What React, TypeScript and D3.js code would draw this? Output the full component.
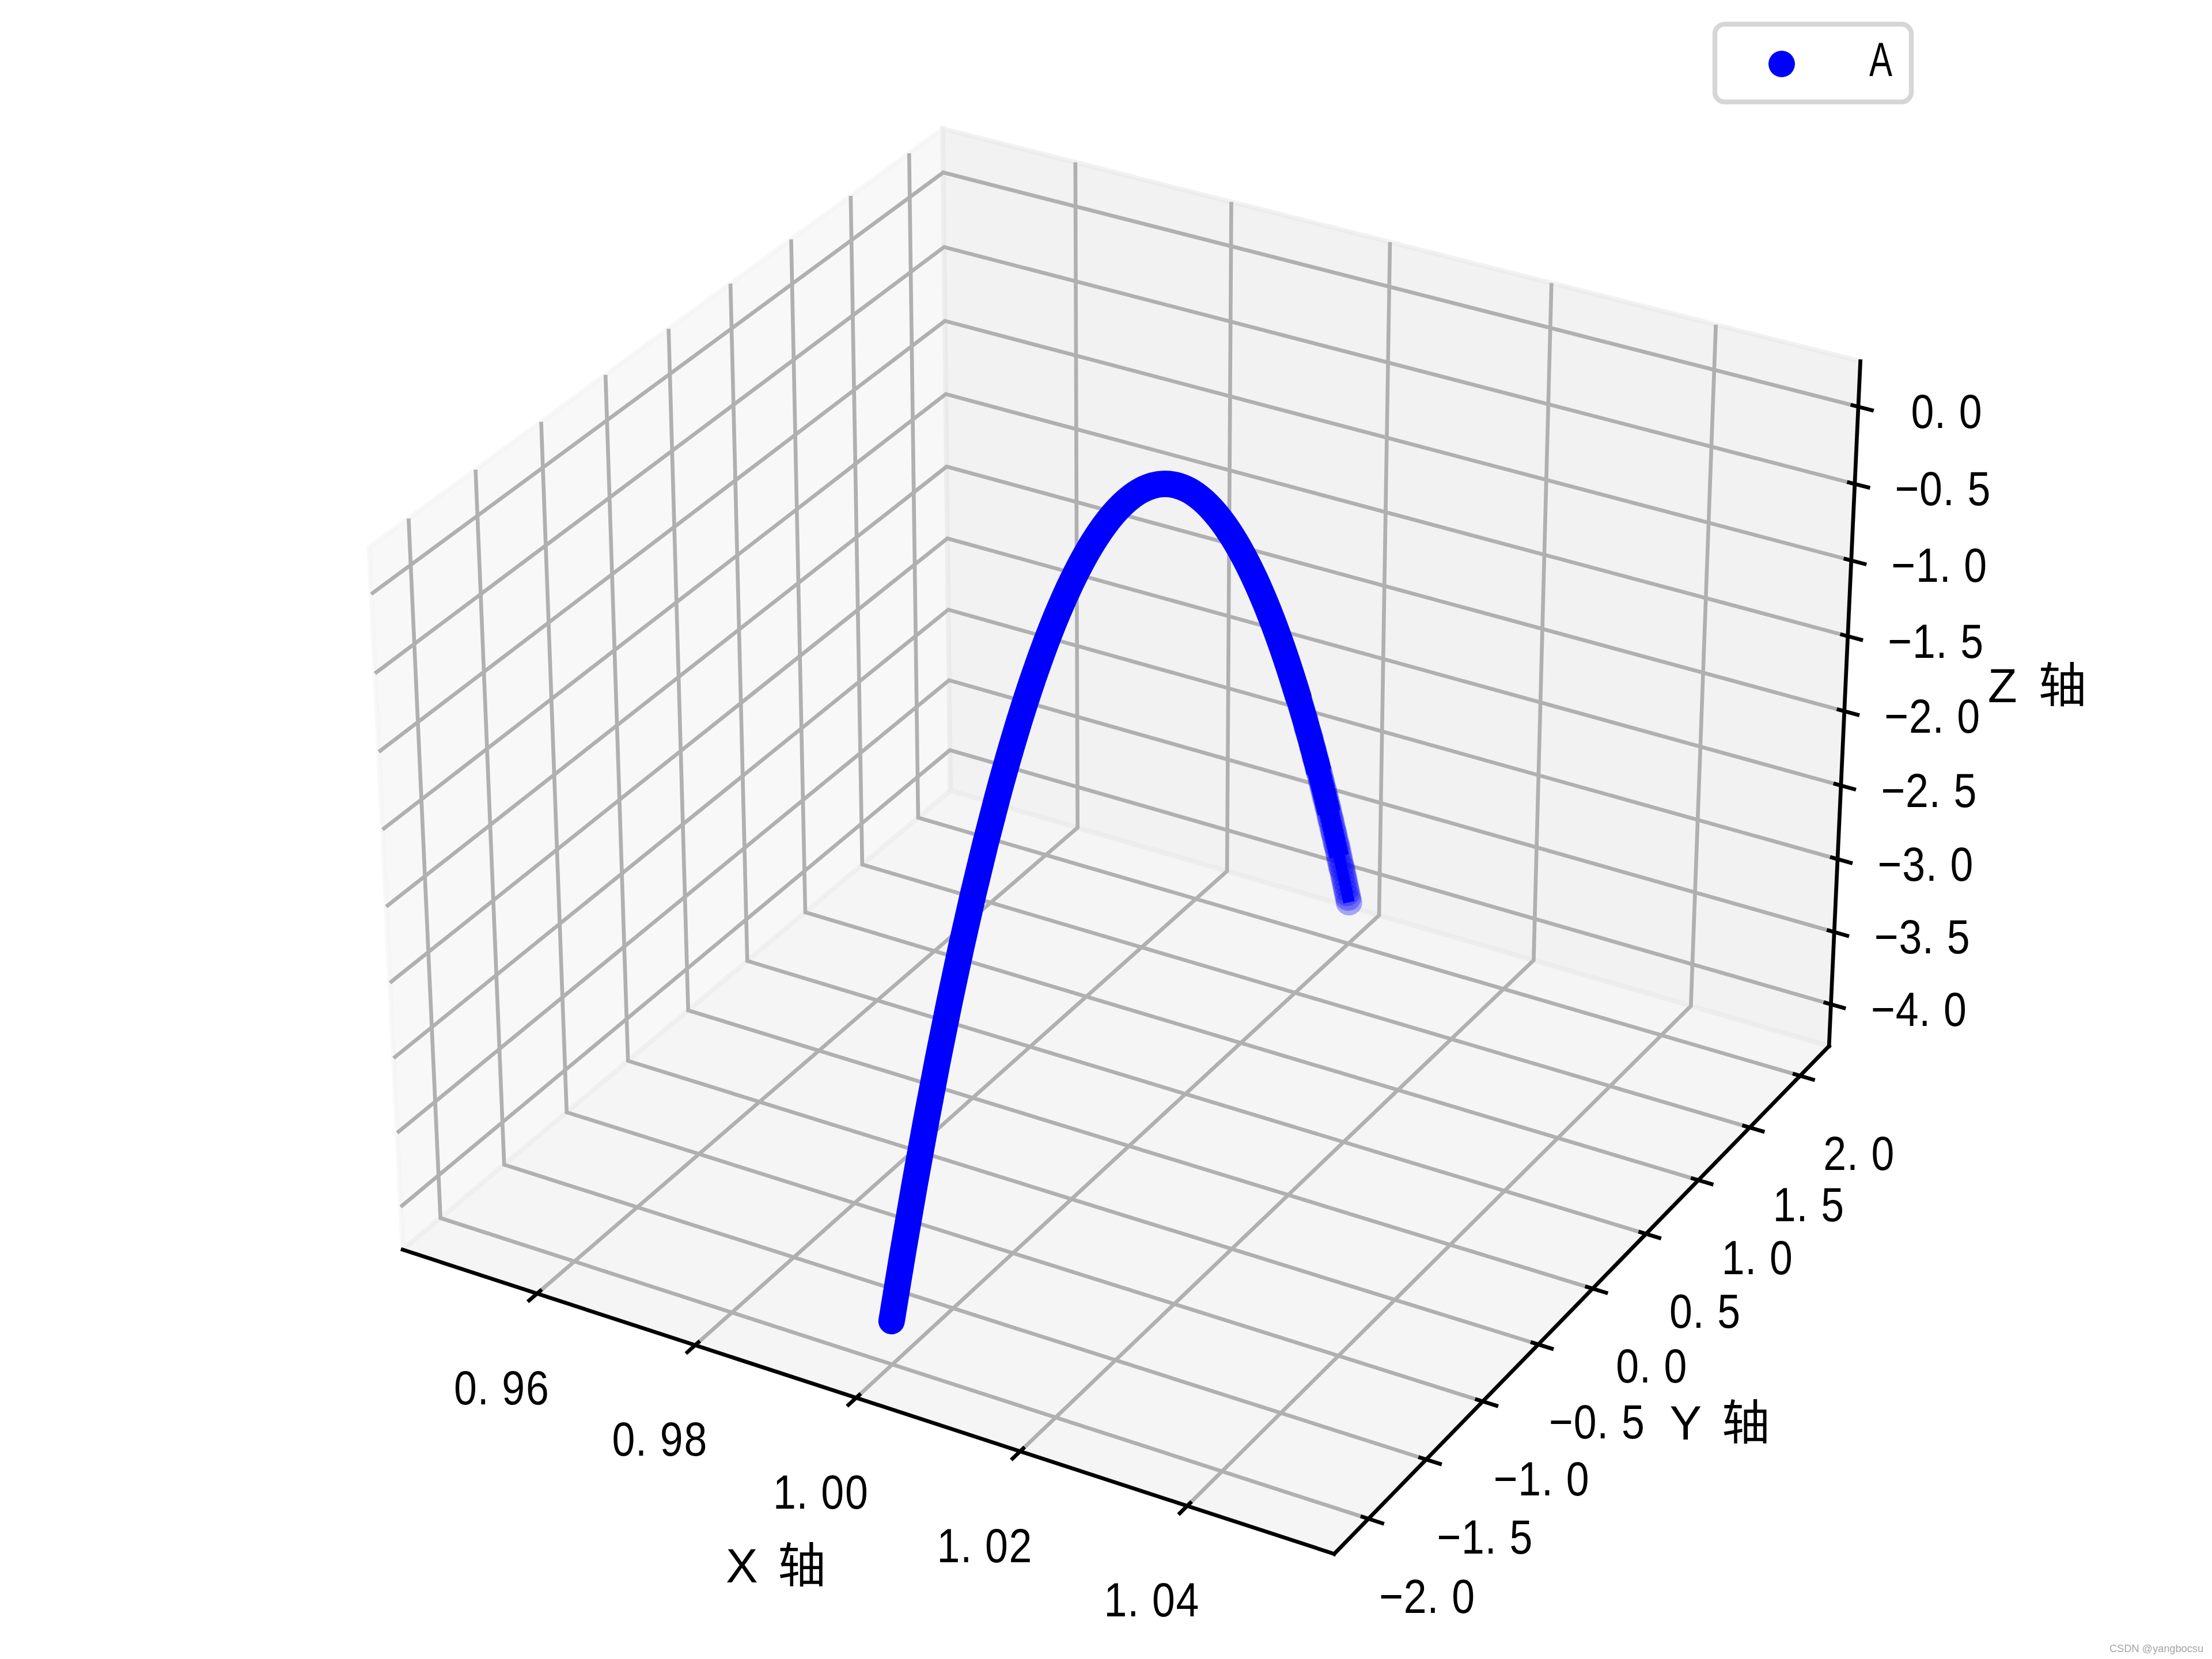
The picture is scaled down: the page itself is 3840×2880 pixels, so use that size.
import React, { useEffect } from 'react'
import * as d3 from 'd3'

const xTicks = [0.96, 0.98, 1.0, 1.02, 1.04]
const xTickLabels = ['0.96', '0.98', '1.00', '1.02', '1.04']
const yTicks = [-2, -1.5, -1, -0.5, 0, 0.5, 1, 1.5, 2]
const yTickLabels = ['−2.0', '−1.5', '−1.0', '−0.5', '0.0', '0.5', '1.0', '1.5', '2.0']
const zTicks = [-4, -3.5, -3, -2.5, -2, -1.5, -1, -0.5, 0]
const zTickLabels = ['−4.0', '−3.5', '−3.0', '−2.5', '−2.0', '−1.5', '−1.0', '−0.5', '0.0']

const xLim = [0.945, 1.055]
const yLim = [-2.2, 2.2]
const zLim = [-4.2, 0.2]

const curveX = 1
const curveY = [
  -2, -1.9, -1.8, -1.7, -1.6, -1.5, -1.4, -1.3, -1.2, -1.1, -1, -0.9, -0.8, -0.7, -0.6, -0.5, -0.4, -0.3, -0.2, -0.1,
  0, 0.1, 0.2, 0.3, 0.4, 0.5, 0.6, 0.7, 0.8, 0.9, 1, 1.1, 1.2, 1.3, 1.4, 1.5, 1.6, 1.7, 1.8, 1.9, 2,
]
const curveZ = [
  -4, -3.61, -3.24, -2.89, -2.56, -2.25, -1.96, -1.69, -1.44, -1.21, -1, -0.81, -0.64, -0.49, -0.36, -0.25, -0.16,
  -0.09, -0.04, -0.01, 0, -0.01, -0.04, -0.09, -0.16, -0.25, -0.36, -0.49, -0.64, -0.81, -1, -1.21, -1.44, -1.69,
  -1.96, -2.25, -2.56, -2.89, -3.24, -3.61, -4,
]
// the far end of the scatter, where the depth shaded dots show through
const tailY = [
  1.5, 1.51, 1.52, 1.53, 1.54, 1.55, 1.56, 1.57, 1.58, 1.59, 1.6, 1.61, 1.62, 1.63, 1.64, 1.65, 1.66, 1.67, 1.68, 1.69,
  1.7, 1.71, 1.72, 1.73, 1.74, 1.75, 1.76, 1.77, 1.78, 1.79, 1.8, 1.81, 1.82, 1.83, 1.84, 1.85, 1.86, 1.87, 1.88, 1.89,
  1.9, 1.91, 1.92, 1.93, 1.94, 1.95, 1.96, 1.97, 1.98, 1.99, 2,
]
const tailZ = [
  -2.25, -2.28, -2.31, -2.34, -2.37, -2.4, -2.43, -2.46, -2.5, -2.53, -2.56, -2.59, -2.62, -2.66, -2.69, -2.72, -2.76,
  -2.79, -2.82, -2.86, -2.89, -2.92, -2.96, -2.99, -3.03, -3.06, -3.1, -3.13, -3.17, -3.2, -3.24, -3.28, -3.31, -3.35,
  -3.39, -3.42, -3.46, -3.5, -3.53, -3.57, -3.61, -3.65, -3.69, -3.72, -3.76, -3.8, -3.84, -3.88, -3.92, -3.96, -4,
]
// solid core under the faded dots gets thinner towards the tip
const coreFrom = [1.5, 1.7, 1.8, 1.9]
const coreTo = [1.7, 1.8, 1.9, 2]
const coreWidth = [44, 40, 34, 20]

const legendLabel = 'A'
const BLUE = '#0000ff'
const FONT = '"Liberation Sans", "Noto Sans CJK SC", sans-serif'
const FS = 83.33
const LW = 6.67

// mplot3d default view, elev 30 azim -60
const DIST = 10
const elev = (30 * Math.PI) / 180
const azim = (-60 * Math.PI) / 180
const boxUnit = 1.8294640721620434 / Math.sqrt(41)
const hx = 2 * boxUnit
const hy = 2 * boxUnit
const hz = 1.5 * boxUnit

const sx = d3.scaleLinear().domain(xLim).range([-hx, hx])
const sy = d3.scaleLinear().domain(yLim).range([-hy, hy])
const sz = d3.scaleLinear().domain(zLim).range([-hz, hz])
const screenX = d3.scaleLinear().domain([-1, 1]).range([1960 - 15560, 1960 + 15560])
const screenY = d3.scaleLinear().domain([-1, 1]).range([1401 + 15560, 1401 - 15560])

const w = [Math.cos(azim) * Math.cos(elev), Math.sin(azim) * Math.cos(elev), Math.sin(elev)]
const un = Math.hypot(w[1], w[0])
const u = [-w[1] / un, w[0] / un, 0]
const v = [w[1] * u[2] - w[2] * u[1], w[2] * u[0] - w[0] * u[2], w[0] * u[1] - w[1] * u[0]]

type P = [number, number]
function project(x: number, y: number, z: number): P {
  const p = [sx(x), sy(y), sz(z)]
  const d = DIST - (p[0] * w[0] + p[1] * w[1] + p[2] * w[2])
  return [
    screenX((p[0] * u[0] + p[1] * u[1] + p[2] * u[2]) / d),
    screenY((p[0] * v[0] + p[1] * v[1] + p[2] * v[2]) / d),
  ]
}

// panes stick out of the limits by 1/48 of the range
const ext = (lim: number[]) => [lim[0] - (lim[1] - lim[0]) / 48, lim[1] + (lim[1] - lim[0]) / 48]
const [x0, x1] = ext(xLim)
const [y0, y1] = ext(yLim)
const [z0, z1] = ext(zLim)
const dx = (xLim[1] - xLim[0]) / 12
const dy = (yLim[1] - yLim[0]) / 12

const line = d3.line<P>()
const smooth = d3.line<P>().curve(d3.curveCatmullRom)

function MonoText({ label, cx, cy, squeeze = 0.86 }: { label: string; cx: number; cy: number; squeeze?: number }) {
  // SimHei style cells: half width latin, full width CJK
  const cell = FS / 2
  const chars = Array.from(label)
  const cells = chars.map((c) => (c.charCodeAt(0) > 0x2fff ? 2 : 1))
  // a CJK glyph must not be squeezed, so labels holding one stay at full width
  const k = cells.some((c) => c > 1) ? 1 : squeeze
  const total = d3.sum(cells) * cell
  let pos = cx - total / 2
  const xs = chars.map((c, i) => {
    const mid = pos + (cells[i] * cell) / 2
    pos += cells[i] * cell
    return (c === '.' ? mid - 11 : mid) / k
  })
  return (
    <text
      transform={`scale(${k},1)`}
      x={xs.join(' ')}
      y={cy + FS * 0.35}
      textAnchor="middle"
      fontFamily={FONT}
      fontSize={FS}
      fill="#000"
    >
      {label}
    </text>
  )
}

export default function App() {
  useEffect(() => {
    document.body.style.margin = '0'
  }, [])

  const panes = [
    { fill: 'rgb(242,242,242)', pts: [project(x0, y0, z0), project(x0, y1, z0), project(x0, y1, z1), project(x0, y0, z1)] },
    { fill: 'rgb(230,230,230)', pts: [project(x0, y1, z0), project(x1, y1, z0), project(x1, y1, z1), project(x0, y1, z1)] },
    { fill: 'rgb(236,236,236)', pts: [project(x0, y0, z0), project(x1, y0, z0), project(x1, y1, z0), project(x0, y1, z0)] },
  ]

  const grid: P[][] = [
    ...xTicks.map((t) => [project(t, y0, z0), project(t, y1, z0), project(t, y1, z1)]),
    ...yTicks.map((t) => [project(x1, t, z0), project(x0, t, z0), project(x0, t, z1)]),
    ...zTicks.map((t) => [project(x0, y0, t), project(x0, y1, t), project(x1, y1, t)]),
  ]

  const axes: P[][] = [
    [project(x0, y0, z0), project(x1, y0, z0)],
    [project(x1, y0, z0), project(x1, y1, z0)],
    [project(x1, y1, z0), project(x1, y1, z1)],
  ]

  const tickMarks: P[][] = [
    ...xTicks.map((t) => [project(t, y0 - 0.2 * dy, z0), project(t, y0 + 0.1 * dy, z0)]),
    ...yTicks.map((t) => [project(x1 + 0.2 * dx, t, z0), project(x1 - 0.1 * dx, t, z0)]),
    ...zTicks.map((t) => [project(x1 + 0.2 * dx, y1, t), project(x1 - 0.1 * dx, y1, t)]),
  ]

  const curve = curveY.map((y, i) => project(curveX, y, curveZ[i]))
  const tail = tailY.map((y, i) => project(curveX, y, tailZ[i]))
  const mainStop = curveY.indexOf(coreFrom[0])
  const core = coreFrom.map((from, i) => ({
    width: coreWidth[i],
    pts: curve.slice(curveY.indexOf(from), curveY.indexOf(coreTo[i]) + 1),
  }))

  const xMid = project(1, y0, z0)
  const yMid = project(x1, 0, z0)
  const zMid = project(x1, y1, -2)

  return (
    <svg width={3840} height={2880} style={{ display: 'block', position: 'absolute', left: 0, top: 0 }}>
      <rect width={3840} height={2880} fill="#fff" />

      {panes.map((p, i) => (
        <path key={i} d={line(p.pts) + 'Z'} fill={p.fill} fillOpacity={0.5} stroke={p.fill} strokeOpacity={0.5} strokeWidth={8.33} />
      ))}

      {grid.map((g, i) => (
        <path key={i} d={line(g)!} fill="none" stroke="#b0b0b0" strokeWidth={LW} />
      ))}
      {axes.map((a, i) => (
        <path key={i} d={line(a)!} fill="none" stroke="#000" strokeWidth={LW} strokeLinecap="square" />
      ))}
      {tickMarks.map((t, i) => (
        <path key={i} d={line(t)!} fill="none" stroke="#000" strokeWidth={LW} />
      ))}

      {tail.map((p, i) => (
        <circle key={i} cx={p[0]} cy={p[1]} r={23} fill={BLUE} fillOpacity={0.33} />
      ))}
      <g fill="none" stroke={BLUE} strokeLinejoin="round">
        <path d={smooth(curve.slice(0, mainStop + 1))!} strokeWidth={46} strokeLinecap="round" />
        {core.map((c, i) => (
          <path key={i} d={smooth(c.pts)!} strokeWidth={c.width} />
        ))}
      </g>

      {xTicks.map((t, i) => {
        const p = project(t, y0, z0)
        return <MonoText key={i} label={xTickLabels[i]} cx={p[0] - 62} cy={p[1] + 163} />
      })}
      {yTicks.map((t, i) => {
        const p = project(x1, t, z0)
        return <MonoText key={i} label={yTickLabels[i]} cx={p[0] + 102} cy={p[1] + 134} />
      })}
      {zTicks.map((t, i) => {
        const p = project(x1, y1, t)
        return <MonoText key={i} label={zTickLabels[i]} cx={p[0] + 153} cy={p[1] + 8} />
      })}

      <MonoText label="X 轴" cx={xMid[0] - 136} cy={xMid[1] + 291} />
      <MonoText label="Y 轴" cx={yMid[0] + 224} cy={yMid[1] + 233} />
      <MonoText label="Z 轴" cx={zMid[0] + 337} cy={zMid[1] - 45} />

      <rect x={2977} y={42} width={341} height={135} rx={17} fill="#fff" fillOpacity={0.8} stroke="#cccccc" strokeOpacity={0.8} strokeWidth={8.33} />
      <circle cx={3093} cy={111} r={23} fill={BLUE} />
      <MonoText label={legendLabel} cx={3265} cy={103} squeeze={0.72} />

      <text x={3825} y={2868} textAnchor="end" fontFamily='"Liberation Sans", sans-serif' fontSize={18.2} fill="#a8a8a8">
        CSDN @yangbocsu
      </text>
    </svg>
  )
}
